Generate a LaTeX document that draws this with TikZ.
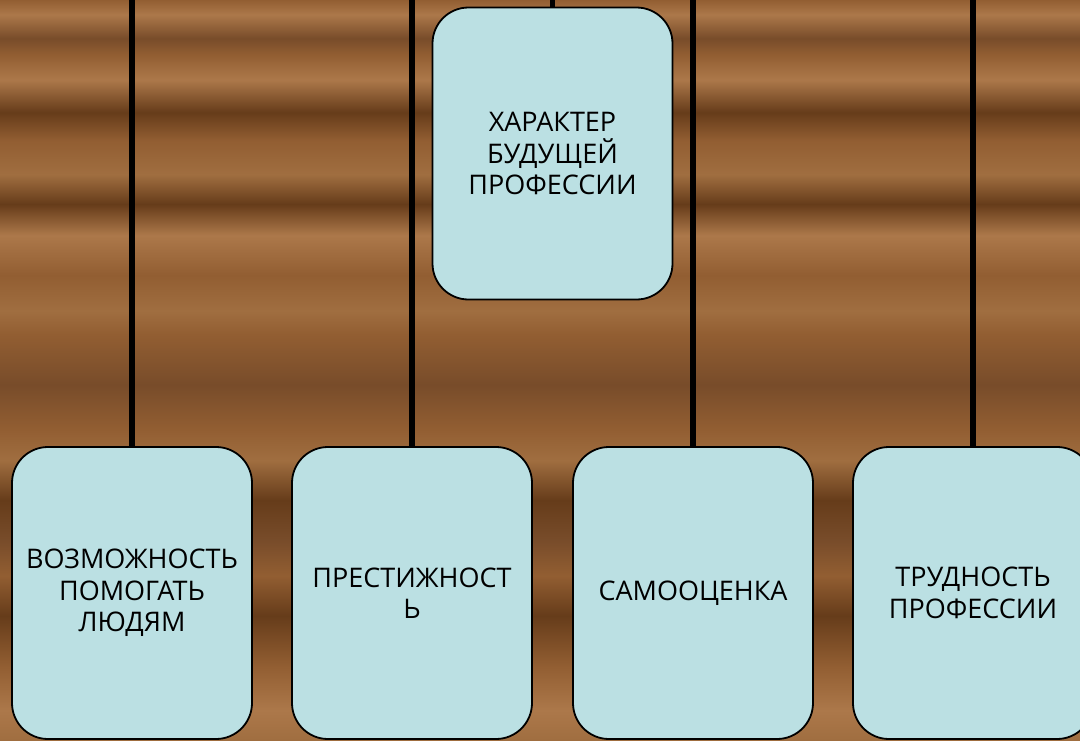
\documentclass[tikz,border=0pt]{standalone}
\usepackage{fontspec}
\setmainfont{Open Sans}
\definecolor{boxblue}{RGB}{187,224,227}
\definecolor{woodlight}{RGB}{172,120,74}
\definecolor{woodtan}{RGB}{160,110,64}
\definecolor{woodmid}{RGB}{146,94,50}
\definecolor{woodbrown}{RGB}{120,76,42}
\definecolor{wooddark}{RGB}{102,60,26}
% horizontal grain of the wooden backdrop (25bp = bottom, 75bp = top)
\pgfdeclareverticalshading{wood}{100bp}{%
  color(0bp)=(woodtan); color(25bp)=(woodtan); color(27bp)=(woodlight);
  color(30bp)=(woodmid); color(33.4bp)=(wooddark); color(36.1bp)=(woodmid);
  color(38.5bp)=(woodbrown); color(41.2bp)=(wooddark); color(43.9bp)=(woodtan);
  color(46bp)=(woodmid); color(49bp)=(woodbrown); color(52.4bp)=(woodmid);
  color(54bp)=(woodtan); color(56.4bp)=(woodmid); color(59.1bp)=(woodlight);
  color(61.2bp)=(wooddark); color(63.2bp)=(woodtan); color(65.5bp)=(woodmid);
  color(67.4bp)=(wooddark); color(69.6bp)=(woodlight); color(71.3bp)=(woodmid);
  color(72.4bp)=(woodbrown); color(74bp)=(woodlight); color(75bp)=(woodmid);
  color(100bp)=(woodmid)}
\tikzset{
  factor/.style={draw=black, line width=1.8pt, fill=boxblue, rounded corners=36pt,
    minimum width=240pt, minimum height=292pt, inner sep=0pt, align=center,
    font=\fontsize{27}{31.5}\selectfont},
  link/.style={line width=5.5pt, black}
}
\begin{document}
\begin{tikzpicture}[x=1pt, y=-1pt]
    \useasboundingbox (0,0) rectangle (1080,740);
    \fill[shading=wood] (0,0) rectangle (1080,740);
    % lines come in from above the frame
    \coordinate (t0) at (552.5,0);
    \coordinate (t1) at (132,0);
    \coordinate (t2) at (412,0);
    \coordinate (t3) at (693,0);
    \coordinate (t4) at (973,0);
    \node[factor] (nature) at (552.5,153.5) {ХАРАКТЕР\\БУДУЩЕЙ\\ПРОФЕССИИ};
    \node[factor] (help) at (132,593) {ВОЗМОЖНОСТЬ\\ПОМОГАТЬ\\ЛЮДЯМ};
    \node[factor] (prestige) at (412,593) {ПРЕСТИЖНОСТ\\Ь};
    \node[factor] (esteem) at (693,593) {САМООЦЕНКА};
    \node[factor] (hardness) at (973,593) {ТРУДНОСТЬ\\ПРОФЕССИИ};
    \draw[link] (t0) -- (nature)
                (t1) -- (help)
                (t2) -- (prestige)
                (t3) -- (esteem)
                (t4) -- (hardness);
\end{tikzpicture}
\end{document}
